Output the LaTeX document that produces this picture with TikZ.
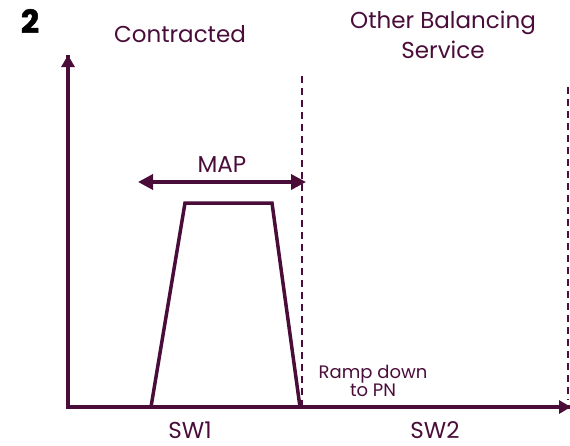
\documentclass[tikz,border=0pt]{standalone}
\usepackage{fontspec}
\setmainfont{Poppins}
\usetikzlibrary{arrows.meta}
\definecolor{plum}{HTML}{4A0D3A}
\begin{document}
\begin{tikzpicture}[x=1pt,y=-1pt,
  axis/.style={draw=plum,line width=3.5pt,-{Triangle[length=12pt,width=13pt]}},
  ramp/.style={draw=plum,line width=3.5pt,line join=miter},
  sep/.style={draw=plum,line width=1.4pt,dash pattern=on 7pt off 5pt},
  lbl/.style={text=plum,font=\fontsize{23}{30}\selectfont,align=center,inner sep=0pt},
  small/.style={text=plum,font=\fontsize{18}{17}\selectfont,align=center,inner sep=0pt}]
\useasboundingbox (0,0) rectangle (570,445);
\coordinate (o) at (68,407);
\coordinate (ytop) at (68,55);
\coordinate (xend) at (571,407);
\coordinate (d1t) at (302,76);
\coordinate (d1b) at (302,407);
\coordinate (d2t) at (568,87);
\coordinate (d2b) at (568,400);
\coordinate (t1) at (151,407);
\coordinate (t2) at (185,203);
\coordinate (t3) at (272,203);
\coordinate (t4) at (300,407);
\coordinate (m1) at (138,182);
\coordinate (m2) at (306,182);
\draw[sep] (d1t) -- (d1b);
\draw[sep] (d2t) -- (d2b);
\draw[ramp] (t1) -- (t2) -- (t3) -- (t4);
\draw[draw=plum,line width=3.5pt,{Triangle[length=15pt,width=15pt]}-{Triangle[length=15pt,width=15pt]}] (m1) -- (m2);
\draw[axis,-] (ytop) -- (o) -- (xend);
\draw[axis] (68,100) -- (ytop);
\draw[axis] (500,407) -- (xend);
\node[font=\fontsize{32}{32}\selectfont\bfseries\addfontfeatures{FakeBold=1.5},inner sep=0pt] (num) at (30,21) {2};
\node[lbl] (con) at (180,34) {Contracted};
\node[lbl] (obs) at (443,35) {Other Balancing\\Service};
\node[lbl] (map) at (222,164) {MAP};
\node[small] (rd) at (373,381) {Ramp down\\to PN};
\node[lbl] (sw1) at (190,430) {SW1};
\node[lbl] (sw2) at (435,430) {SW2};
\end{tikzpicture}
\end{document}
